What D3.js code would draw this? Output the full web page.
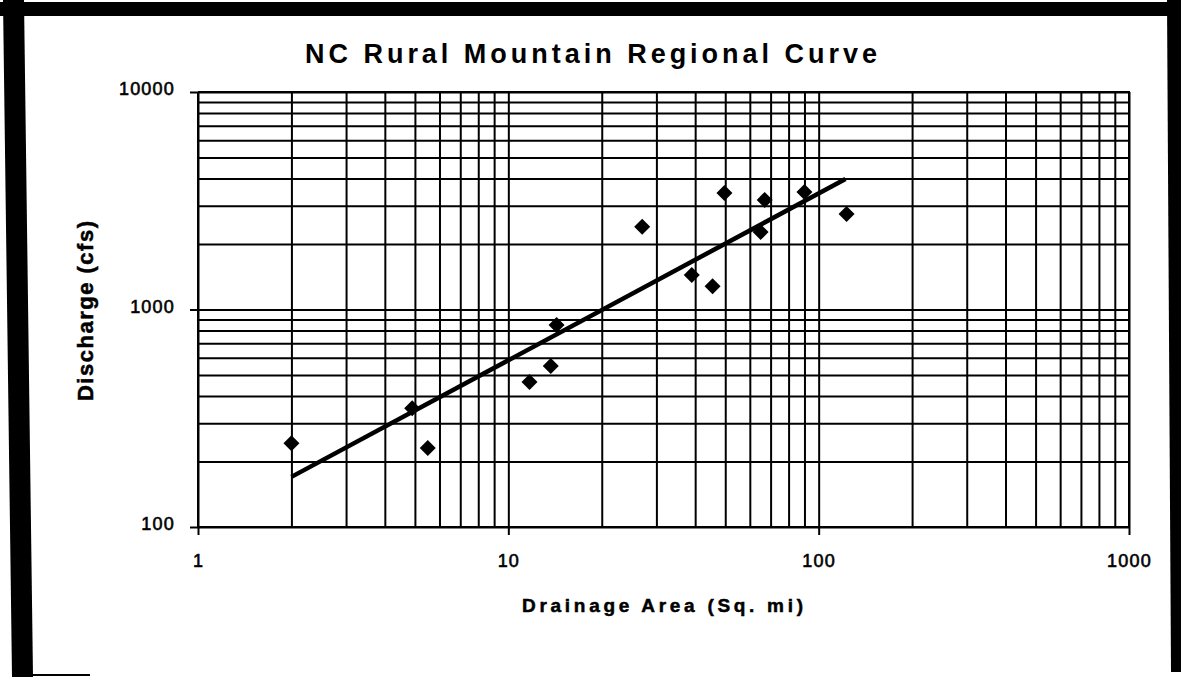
<!DOCTYPE html>
<html>
<head>
<meta charset="utf-8">
<script src="https://cdn.jsdelivr.net/npm/d3@7"></script>
<style>
  html, body { margin: 0; padding: 0; background: #fff; }
  svg { display: block; }
</style>
</head>
<body>
<svg id="chart" width="1181" height="677"></svg>
<script>
// Bankfull discharge vs. drainage area, rural mountain streams (NC)
const areaSqMi     = [2.0, 4.9, 5.5, 11.7, 13.7, 14.3, 27, 39, 45.5, 49.7, 65, 67, 90, 123];
const dischargeCfs = [243, 352, 231, 464, 550, 849, 2400, 1440, 1280, 3430, 2270, 3190, 3470, 2750];

// Power-law trend line end points
const trendArea = [2, 122];
const trendQ    = [170, 3980];

// Axis ticks
const xMajorTicks = [1, 10, 100, 1000];
const yMajorTicks = [100, 1000, 10000];

const titleText = "NC Rural Mountain Regional Curve";
const xTitle = "Drainage Area (Sq. mi)";
const yTitle = "Discharge (cfs)";

const svg = d3.select("#chart");
const W = 1181, H = 677;
const plot = { left: 198, right: 1129, top: 92, bottom: 527 };
const FONT = "Liberation Sans, Arial, sans-serif";

svg.append("rect").attr("width", W).attr("height", H).attr("fill", "#fff");

// Page frame (thick black edges)
const frame = svg.append("g").attr("fill", "#000");
frame.append("rect").attr("x", 0).attr("y", 2).attr("width", W).attr("height", 14);
frame.append("path").attr("d", "M3,0 L24,0 L33,677 L12,677 Z");
frame.append("path").attr("d", "M1167,0 L1181,0 L1181,672 L1171,672 Z");
frame.append("rect").attr("x", 30).attr("y", 674).attr("width", 60).attr("height", 2);

const x = d3.scaleLog().domain([1, 1000]).range([plot.left, plot.right]);
const y = d3.scaleLog().domain([100, 10000]).range([plot.bottom, plot.top]);

// Every 1..9 multiple within each decade
function decadeMultiples(lo, hi) {
  const out = [];
  for (let d = lo; d < hi; d *= 10) for (let k = 1; k <= 9; k++) out.push(d * k);
  out.push(hi);
  return out;
}
const xGridVals = decadeMultiples(1, 1000);
const yGridVals = decadeMultiples(100, 10000);

const plotW = plot.right - plot.left;
const plotH = plot.bottom - plot.top;

// Vertical grid
svg.append("g")
  .attr("transform", `translate(0,${plot.bottom})`)
  .call(d3.axisBottom(x).tickValues(xGridVals).tickSize(-plotH).tickFormat(""))
  .call(g => g.select(".domain").remove())
  .call(g => g.selectAll("line").attr("stroke", "#000").attr("stroke-width", 2));

// Horizontal grid
svg.append("g")
  .attr("transform", `translate(${plot.left},0)`)
  .call(d3.axisLeft(y).tickValues(yGridVals).tickSize(-plotW).tickFormat(""))
  .call(g => g.select(".domain").remove())
  .call(g => g.selectAll("line").attr("stroke", "#000").attr("stroke-width", 2));

function styleTickText(sel) {
  sel.attr("font-family", FONT)
    .attr("font-size", 18).attr("fill", "#000")
    .attr("letter-spacing", 1.2)
    .attr("stroke", "#000").attr("stroke-width", 0.6);
}

// Bottom axis
const xAxisG = svg.append("g")
  .attr("transform", `translate(0,${plot.bottom})`)
  .call(d3.axisBottom(x).tickValues(xMajorTicks).tickSize(8).tickPadding(19)
        .tickFormat(d3.format("d")));
xAxisG.select(".domain").attr("stroke", "#000").attr("stroke-width", 2)
  .attr("d", `M${plot.left},0H${plot.right}`);
xAxisG.selectAll("line").attr("stroke", "#000").attr("stroke-width", 2);
xAxisG.selectAll("text").call(styleTickText);

// Left axis
const yAxisG = svg.append("g")
  .attr("transform", `translate(${plot.left},0)`)
  .call(d3.axisLeft(y).tickValues(yMajorTicks).tickSize(8).tickPadding(15)
        .tickFormat(d3.format("d")));
yAxisG.select(".domain").attr("stroke", "#000").attr("stroke-width", 2)
  .attr("d", `M0,${plot.bottom}V${plot.top}`);
yAxisG.selectAll("line").attr("stroke", "#000").attr("stroke-width", 2);
yAxisG.selectAll("text").call(styleTickText).attr("dy", "0.15em");

// Plot border top / right
svg.append("path")
  .attr("d", `M${plot.left},${plot.top}H${plot.right}V${plot.bottom}`)
  .attr("fill", "none").attr("stroke", "#000").attr("stroke-width", 2);

// Trend line
svg.append("path")
  .datum(trendArea.map((a, i) => [a, trendQ[i]]))
  .attr("d", d3.line().x(d => x(d[0])).y(d => y(d[1])))
  .attr("fill", "none").attr("stroke", "#000").attr("stroke-width", 4.5);

// Observed points (diamonds)
const diamond = d3.symbol().type(d3.symbolSquare).size(128);
svg.append("g").selectAll("path")
  .data(areaSqMi.map((a, i) => [a, dischargeCfs[i]]))
  .join("path")
  .attr("d", diamond)
  .attr("transform", d => `translate(${x(d[0])},${y(d[1])}) rotate(45)`)
  .attr("fill", "#000");

// Titles
svg.append("text")
  .attr("x", 305).attr("y", 63)
  .attr("font-family", FONT)
  .attr("font-weight", "bold").attr("font-size", 27)
  .attr("textLength", 572).attr("lengthAdjust", "spacing")
  .attr("fill", "#000")
  .text(titleText);

svg.append("text")
  .attr("x", 522).attr("y", 612)
  .attr("font-family", FONT)
  .attr("font-weight", "bold").attr("font-size", 19)
  .attr("textLength", 281).attr("lengthAdjust", "spacing")
  .attr("fill", "#000").attr("stroke", "#000").attr("stroke-width", 0.5)
  .text(xTitle);

svg.append("text")
  .attr("transform", `translate(93,${311 + 90}) rotate(-90)`)
  .attr("font-family", FONT)
  .attr("font-weight", "bold").attr("font-size", 22)
  .attr("textLength", 180).attr("lengthAdjust", "spacing")
  .attr("fill", "#000").attr("stroke", "#000").attr("stroke-width", 0.5)
  .text(yTitle);
</script>
</body>
</html>
